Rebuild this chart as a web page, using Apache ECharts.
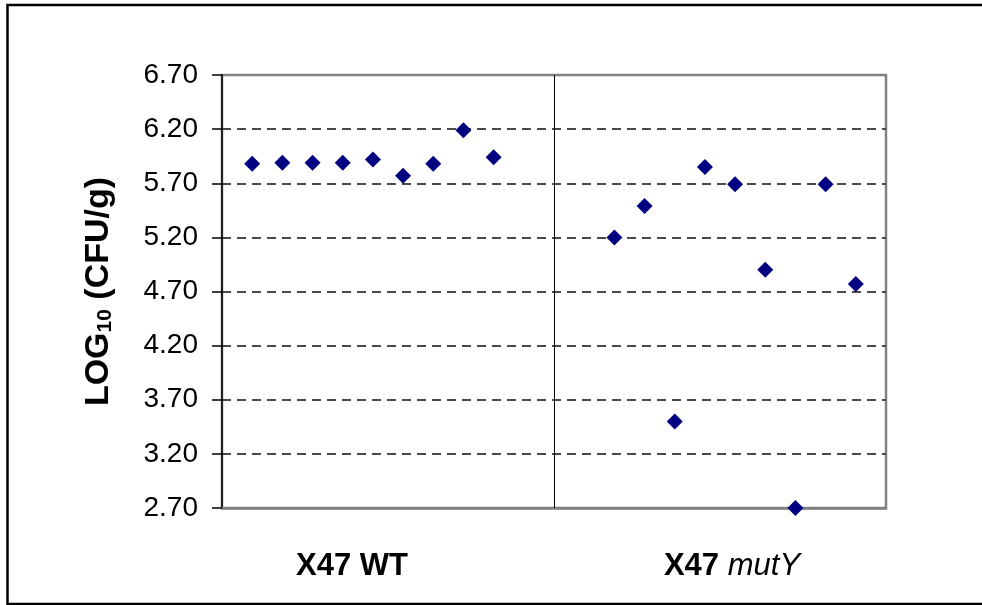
<!DOCTYPE html>
<html>
<head>
<meta charset="utf-8">
<script src="https://cdn.jsdelivr.net/npm/echarts@6/dist/echarts.min.js"></script>
<style>
  html, body { margin: 0; padding: 0; background: #fff; }
  #chart { width: 982px; height: 605px; }
</style>
</head>
<body>
<div id="chart"></div>
<script>
// sample positions along the x axis (0..22, divider at 11)
const wtX = [1, 2, 3, 4, 5, 6, 7, 8, 9]
const wtY = [5.88, 5.89, 5.89, 5.89, 5.92, 5.77, 5.88, 6.19, 5.94]
const mutX = [13, 14, 15, 16, 17, 18, 19, 20, 21]
const mutY = [5.20, 5.49, 3.50, 5.85, 5.69, 4.90, 2.70, 5.69, 4.77]
const groupLabels = ['X47 WT', 'X47 mutY']
const yTicks = { min: 2.7, max: 6.7, step: 0.5 }
const dividerAt = 11

const font = '"Liberation Sans", Arial, sans-serif'
const chart = echarts.init(document.getElementById('chart'), null, { renderer: 'canvas' })

const pairs = (xs, ys) => xs.map((x, i) => [x, ys[i]])

chart.setOption({
  animation: false,
  backgroundColor: '#fff',
  grid: {
    left: 222,
    top: 75,
    right: 96,
    bottom: 97,
    show: true,
    borderColor: '#808080',
    borderWidth: 2.5
  },
  xAxis: {
    type: 'value',
    min: 0,
    max: 22,
    axisLine: { show: true, lineStyle: { color: '#808080', width: 2.5 } },
    axisTick: { show: false },
    axisLabel: { show: false },
    splitLine: { show: false }
  },
  yAxis: {
    type: 'value',
    min: yTicks.min,
    max: yTicks.max,
    interval: yTicks.step,
    name: '{b|LOG}{s|10}{b| (CFU/g)}',
    nameLocation: 'middle',
    nameRotate: 90,
    nameGap: 106,
    nameTextStyle: {
      rich: {
        b: { fontFamily: font, fontWeight: 'bold', fontSize: 34, color: '#000', verticalAlign: 'bottom' },
        s: { fontFamily: font, fontWeight: 'bold', fontSize: 21, color: '#000', verticalAlign: 'bottom' }
      }
    },
    axisLine: { show: true, lineStyle: { color: '#000', width: 1.5 } },
    axisTick: { show: true, length: 10, lineStyle: { color: '#000', width: 1.5 } },
    axisLabel: {
      margin: 24,
      fontFamily: font,
      fontSize: 28,
      color: '#000',
      formatter: v => v.toFixed(2)
    },
    splitLine: {
      show: true,
      showMinLine: false,
      showMaxLine: false,
      lineStyle: { color: '#4a4a4a', width: 1.8, type: [9, 6] }
    }
  },
  series: [
    {
      name: groupLabels[0],
      type: 'scatter',
      symbol: 'diamond',
      symbolSize: 16,
      itemStyle: { color: '#000080', opacity: 1 },
      data: pairs(wtX, wtY),
      clip: false,
      z: 5,
      markLine: {
        silent: true,
        symbol: ['none', 'none'],
        label: { show: false },
        lineStyle: { color: '#000', width: 1, type: 'solid' },
        data: [{ xAxis: dividerAt }]
      }
    },
    {
      name: groupLabels[1],
      type: 'scatter',
      symbol: 'diamond',
      symbolSize: 16,
      itemStyle: { color: '#000080', opacity: 1 },
      data: pairs(mutX, mutY),
      clip: false,
      z: 5
    }
  ],
  graphic: [
    {
      type: 'rect',
      shape: { x: 7.5, y: 5, width: 1000, height: 599 },
      style: { fill: 'none', stroke: '#000', lineWidth: 2.5 },
      silent: true
    },
    {
      type: 'text',
      x: 352,
      y: 566,
      style: {
        text: '{b|' + groupLabels[0] + '}',
        align: 'center',
        verticalAlign: 'middle',
        rich: { b: { fontFamily: font, fontWeight: 'bold', fontSize: 31, fill: '#000' } }
      }
    },
    {
      type: 'text',
      x: 732,
      y: 566,
      style: {
        text: '{b|' + groupLabels[1].split(' ')[0] + ' }{i|' + groupLabels[1].split(' ')[1] + '}',
        align: 'center',
        verticalAlign: 'middle',
        rich: {
          b: { fontFamily: font, fontWeight: 'bold', fontSize: 31, fill: '#000' },
          i: { fontFamily: font, fontStyle: 'italic', fontSize: 31, fill: '#000' }
        }
      }
    }
  ]
})
</script>
</body>
</html>
